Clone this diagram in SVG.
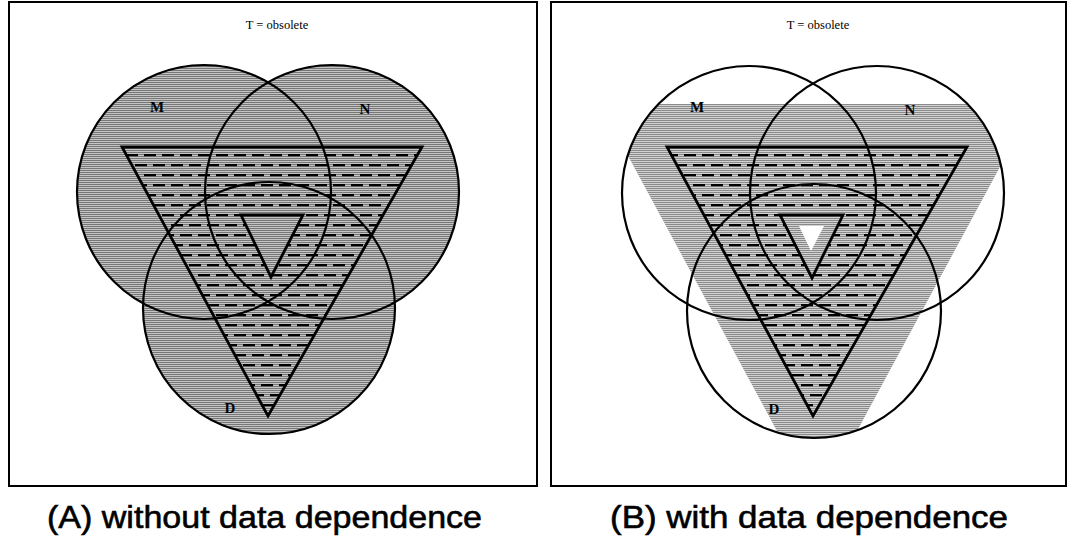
<svg xmlns="http://www.w3.org/2000/svg" width="1075" height="536" viewBox="0 0 1075 536">
  <style>
    .frame { fill: #ffffff; stroke: #000; stroke-width: 2; }
    .outline { fill: none; stroke: #000; stroke-width: 2.2; }
    .tri { fill: none; stroke: #000; stroke-width: 2.8; stroke-linejoin: miter; }
    .title { font-family: "Liberation Serif", serif; font-size: 12.5px; fill: #000; text-anchor: middle; }
    .lbl { font-family: "Liberation Serif", serif; font-size: 15px; font-weight: bold; fill: #000; text-anchor: middle; }
    .cap { font-family: "Liberation Sans", Arial, sans-serif; font-size: 32px; fill: #000; stroke: #000; stroke-width: 0.6; }
  </style>
  <defs>
    <pattern id="grayA" patternUnits="userSpaceOnUse" width="4" height="2">
      <rect width="4" height="2" fill="#c4c4c4"/>
      <rect width="4" height="1" fill="#777777"/>
    </pattern>
    <pattern id="grayB" patternUnits="userSpaceOnUse" width="4" height="2">
      <rect width="4" height="2" fill="#d2d2d2"/>
      <rect width="4" height="1" fill="#8a8a8a"/>
    </pattern>
    <pattern id="dash" patternUnits="userSpaceOnUse" x="0" y="150" width="18" height="20">
      <rect x="0" y="4" width="12" height="2.2" fill="#000"/>
      <rect x="9" y="14" width="12" height="2.2" fill="#000"/>
      <rect x="-9" y="14" width="12" height="2.2" fill="#000"/>
    </pattern>
    <clipPath id="unionB">
      <circle cx="749" cy="193" r="127"/>
      <circle cx="877" cy="193" r="127"/>
      <circle cx="814" cy="311" r="127"/>
    </clipPath>
  </defs>

  <!-- Panel A -->
  <g id="panelA">
    <rect class="frame" x="9" y="2" width="528" height="484"/>
    <text class="title" x="277" y="29">T = obsolete</text>
    <g id="fillA">
      <circle cx="204" cy="192" r="127" fill="url(#grayA)"/>
      <circle cx="332" cy="192" r="127" fill="url(#grayA)"/>
      <circle cx="269" cy="308" r="126" fill="url(#grayA)"/>
      <polygon points="122,147 422,147 268,416" fill="url(#dash)"/>
      <polygon points="241,215 303,215 271,277" fill="url(#grayA)"/>
    </g>
    <g id="setM-A"><circle class="outline" cx="204" cy="192" r="127"/><text class="lbl" x="157" y="112">M</text></g>
    <g id="setN-A"><circle class="outline" cx="332" cy="192" r="127"/><text class="lbl" x="365" y="114">N</text></g>
    <g id="setD-A"><circle class="outline" cx="269" cy="308" r="126"/><text class="lbl" x="230" y="413">D</text></g>
    <g id="triT-A">
      <polygon class="tri" points="122,147 422,147 268,416"/>
      <polygon class="tri" points="241,215 303,215 271,277"/>
    </g>
  </g>

  <!-- Panel B -->
  <g id="panelB">
    <rect class="frame" x="551" y="2" width="515" height="484"/>
    <text class="title" x="818" y="29">T = obsolete</text>
    <g id="fillB">
      <polygon points="600,104 1034,104 817,505" fill="url(#grayB)" clip-path="url(#unionB)"/>
      <polygon points="667,147 967,147 813,416" fill="url(#dash)"/>
      <polygon points="780,215 843,215 812,278" fill="url(#grayB)"/>
      <polygon points="799,226 824,226 811,251" fill="#ffffff"/>
    </g>
    <g id="setM-B"><circle class="outline" cx="749" cy="193" r="127"/><text class="lbl" x="697" y="112">M</text></g>
    <g id="setN-B"><circle class="outline" cx="877" cy="193" r="127"/><text class="lbl" x="910" y="115">N</text></g>
    <g id="setD-B"><circle class="outline" cx="814" cy="311" r="127"/><text class="lbl" x="774" y="414">D</text></g>
    <g id="triT-B">
      <polygon class="tri" points="667,147 967,147 813,416"/>
      <polygon class="tri" points="780,215 843,215 812,278"/>
    </g>
  </g>

  <g id="captions">
    <text class="cap" x="47" y="528" textLength="435" lengthAdjust="spacingAndGlyphs">(A) without data dependence</text>
    <text class="cap" x="610" y="528" textLength="398" lengthAdjust="spacingAndGlyphs">(B) with data dependence</text>
  </g>
</svg>
